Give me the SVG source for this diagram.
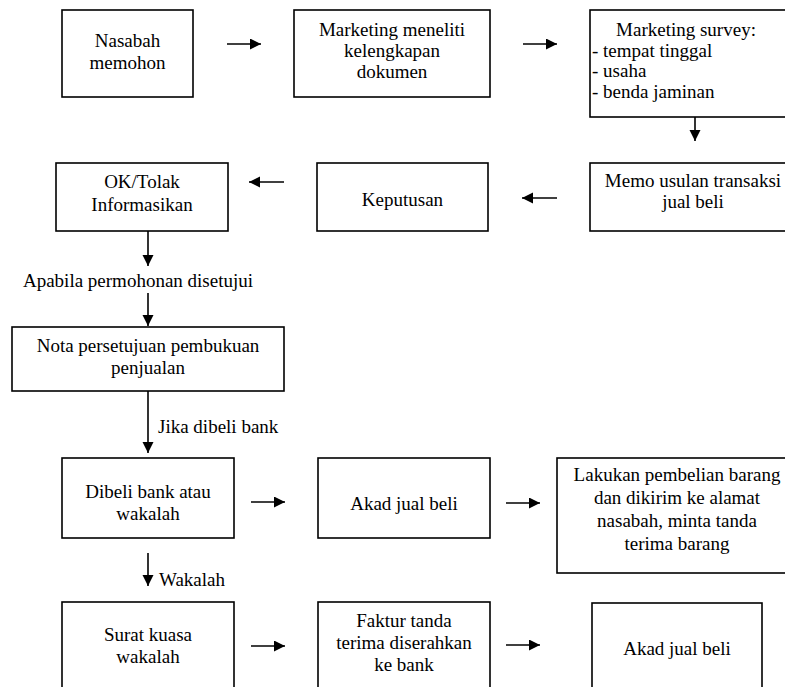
<svg xmlns="http://www.w3.org/2000/svg" width="785" height="687" viewBox="0 0 785 687">
<defs>
<marker id="ah" markerUnits="userSpaceOnUse" markerWidth="12" markerHeight="12" refX="11" refY="5.5" orient="auto">
<path d="M0,0 L11,5.5 L0,11 z" fill="#000"/>
</marker>
</defs>
<rect width="785" height="687" fill="#fff"/>
<g id="n1"><rect fill="#fff" stroke="#000" stroke-width="1.6" x="62" y="10" width="131" height="87"/>
<text style="font-family:'Liberation Serif'" font-size="19" text-anchor="middle" x="127.5" y="47">Nasabah</text><text style="font-family:'Liberation Serif'" font-size="19" text-anchor="middle" x="127.5" y="69">memohon</text></g>
<g id="n2"><rect fill="#fff" stroke="#000" stroke-width="1.6" x="294" y="10" width="196" height="87"/>
<text style="font-family:'Liberation Serif'" font-size="19" text-anchor="middle" x="392" y="36">Marketing meneliti</text><text style="font-family:'Liberation Serif'" font-size="19" text-anchor="middle" x="392" y="57">kelengkapan</text><text style="font-family:'Liberation Serif'" font-size="19" text-anchor="middle" x="392" y="78">dokumen</text></g>
<g id="n3"><rect fill="#fff" stroke="#000" stroke-width="1.6" x="590" y="10" width="200" height="107"/>
<text style="font-family:'Liberation Serif'" font-size="19" text-anchor="middle" x="686" y="36">Marketing survey:</text><text style="font-family:'Liberation Serif'" font-size="19" x="592" y="57">- tempat tinggal</text><text style="font-family:'Liberation Serif'" font-size="19" x="592" y="77">- usaha</text><text style="font-family:'Liberation Serif'" font-size="19" x="592" y="98">- benda jaminan</text></g>
<g id="n4"><rect fill="#fff" stroke="#000" stroke-width="1.6" x="590" y="163" width="200" height="68"/>
<text style="font-family:'Liberation Serif'" font-size="19" text-anchor="middle" x="693" y="187">Memo usulan transaksi</text><text style="font-family:'Liberation Serif'" font-size="19" text-anchor="middle" x="693" y="208">jual beli</text></g>
<g id="n5"><rect fill="#fff" stroke="#000" stroke-width="1.6" x="317" y="163" width="171" height="68"/>
<text style="font-family:'Liberation Serif'" font-size="19" text-anchor="middle" x="402.5" y="206">Keputusan</text></g>
<g id="n6"><rect fill="#fff" stroke="#000" stroke-width="1.6" x="56" y="163" width="172" height="68"/>
<text style="font-family:'Liberation Serif'" font-size="19" text-anchor="middle" x="142" y="188">OK/Tolak</text><text style="font-family:'Liberation Serif'" font-size="19" text-anchor="middle" x="142" y="211">Informasikan</text></g>
<g id="n7"><rect fill="#fff" stroke="#000" stroke-width="1.6" x="12" y="327" width="272" height="64"/>
<text style="font-family:'Liberation Serif'" font-size="19" text-anchor="middle" x="148" y="352">Nota persetujuan pembukuan</text><text style="font-family:'Liberation Serif'" font-size="19" text-anchor="middle" x="148" y="374">penjualan</text></g>
<g id="n8"><rect fill="#fff" stroke="#000" stroke-width="1.6" x="62" y="458" width="172" height="80"/>
<text style="font-family:'Liberation Serif'" font-size="19" text-anchor="middle" x="148" y="498">Dibeli bank atau</text><text style="font-family:'Liberation Serif'" font-size="19" text-anchor="middle" x="148" y="520">wakalah</text></g>
<g id="n9"><rect fill="#fff" stroke="#000" stroke-width="1.6" x="318" y="458" width="172" height="80"/>
<text style="font-family:'Liberation Serif'" font-size="19" text-anchor="middle" x="404" y="510">Akad jual beli</text></g>
<g id="n10"><rect fill="#fff" stroke="#000" stroke-width="1.6" x="557" y="458" width="233" height="115"/>
<text style="font-family:'Liberation Serif'" font-size="19" text-anchor="middle" x="677" y="481">Lakukan pembelian barang</text><text style="font-family:'Liberation Serif'" font-size="19" text-anchor="middle" x="677" y="504">dan dikirim ke alamat</text><text style="font-family:'Liberation Serif'" font-size="19" text-anchor="middle" x="677" y="527">nasabah, minta tanda</text><text style="font-family:'Liberation Serif'" font-size="19" text-anchor="middle" x="677" y="550">terima barang</text></g>
<g id="n11"><rect fill="#fff" stroke="#000" stroke-width="1.6" x="62" y="602" width="172" height="95"/>
<text style="font-family:'Liberation Serif'" font-size="19" text-anchor="middle" x="148" y="641">Surat kuasa</text><text style="font-family:'Liberation Serif'" font-size="19" text-anchor="middle" x="148" y="663">wakalah</text></g>
<g id="n12"><rect fill="#fff" stroke="#000" stroke-width="1.6" x="318" y="602" width="172" height="95"/>
<text style="font-family:'Liberation Serif'" font-size="19" text-anchor="middle" x="404" y="627">Faktur tanda</text><text style="font-family:'Liberation Serif'" font-size="19" text-anchor="middle" x="404" y="649">terima diserahkan</text><text style="font-family:'Liberation Serif'" font-size="19" text-anchor="middle" x="404" y="671">ke bank</text></g>
<g id="n13"><rect fill="#fff" stroke="#000" stroke-width="1.6" x="592" y="603" width="170" height="95"/>
<text style="font-family:'Liberation Serif'" font-size="19" text-anchor="middle" x="677" y="655">Akad jual beli</text></g>
<g id="labels">
<text style="font-family:'Liberation Serif'" font-size="19" text-anchor="middle" x="138" y="287">Apabila permohonan disetujui</text>
<text style="font-family:'Liberation Serif'" font-size="19" x="158" y="433">Jika dibeli bank</text>
<text style="font-family:'Liberation Serif'" font-size="19" x="159" y="586">Wakalah</text>
</g>
<g id="connectors" stroke="#000" stroke-width="1.6" fill="none" marker-end="url(#ah)">
<line x1="227" y1="44" x2="261" y2="44"/>
<line x1="523" y1="44" x2="557" y2="44"/>
<line x1="695" y1="117" x2="695" y2="141"/>
<line x1="284" y1="182" x2="249" y2="182"/>
<line x1="557" y1="198" x2="522" y2="198"/>
<line x1="148" y1="231" x2="148" y2="266"/>
<line x1="148" y1="293" x2="148" y2="326"/>
<line x1="148" y1="391" x2="148" y2="453"/>
<line x1="251" y1="502" x2="285" y2="502"/>
<line x1="506" y1="503" x2="540" y2="503"/>
<line x1="148" y1="553" x2="148" y2="586"/>
<line x1="251" y1="646" x2="285" y2="646"/>
<line x1="506" y1="645" x2="540" y2="645"/>
</g>
</svg>
